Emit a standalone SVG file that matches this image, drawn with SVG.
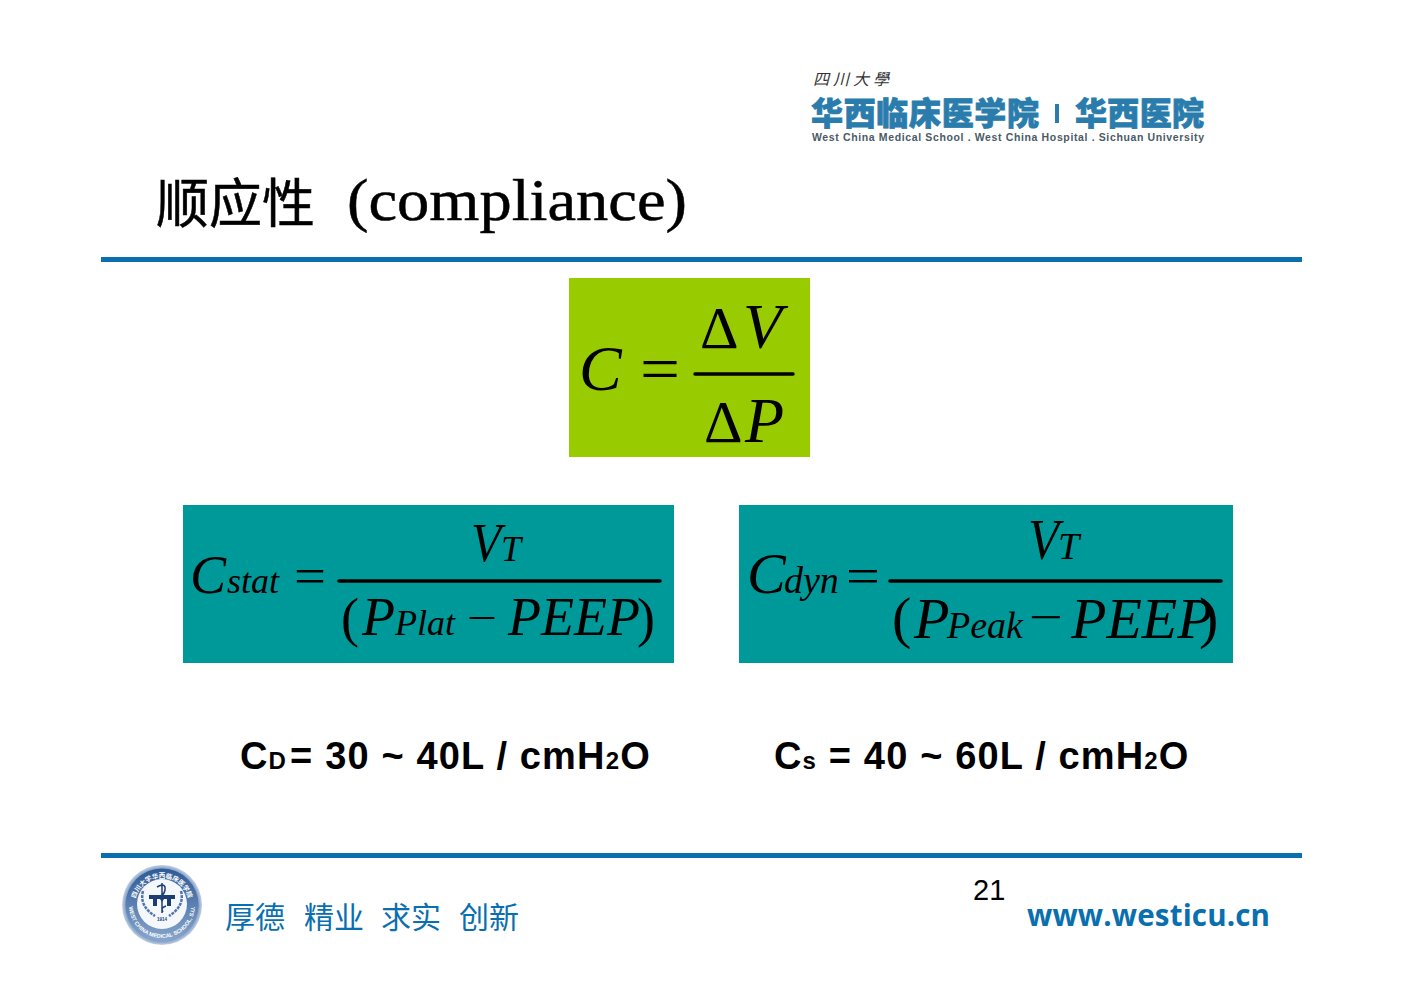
<svg xmlns="http://www.w3.org/2000/svg" width="1403" height="992" viewBox="0 0 1403 992">
<style>
.m{font-family:"Liberation Serif",serif;font-style:italic;fill:#000}
.u{font-family:"Liberation Serif",serif;fill:#000}
.b{font-family:"Liberation Sans",Arial,sans-serif;font-weight:bold;fill:#000;letter-spacing:1.150px}
.cj{font-family:"Noto Sans CJK SC",sans-serif}
.rule{fill:#0a6fae}
.fr{stroke:#000;stroke-linecap:round}
.logo{font-weight:900;fill:#2a7cad;stroke:#2a7cad;stroke-width:.8}
.mo{fill:#0a6fae}
</style>
<defs>
<path id="arcTop" d="M135 905a27 27 0 0 1 54 0"/>
<path id="arcBot" d="M129 905a33 33 0 0 0 66 0"/>
<radialGradient id="halo"><stop offset=".88" stop-color="#6d8dbb"/><stop offset="1" stop-color="#c4d3e6"/></radialGradient>
<linearGradient id="ring" x1="0" y1="0" x2="0" y2="1"><stop offset="0" stop-color="#2f5a96"/><stop offset="1" stop-color="#88a6cb"/></linearGradient>
</defs>
<rect width="1403" height="992" fill="#fff"/>
<g id="logo">
<text class="cj" x="813" y="85" font-size="16" fill="#333" font-style="italic" textLength="76">四川大學</text>
<text class="cj logo" x="811" y="125" font-size="32" textLength="228">华西临床医学院</text>
<rect x="1055" y="104" width="4" height="19" fill="#2a7cad"/>
<text class="cj logo" x="1075" y="125" font-size="32" textLength="129">华西医院</text>
<text x="812" y="141" font-family="Liberation Sans,Arial,sans-serif" font-size="10.500" font-weight="bold" fill="#4a5a66" textLength="392">West China Medical School . West China Hospital . Sichuan University</text>
</g>
<g id="title">
<text class="cj" x="156" y="223" font-size="53" fill="#000" stroke="#000" stroke-width=".5" textLength="159">顺应性</text>
<text class="u" x="347" y="220" font-size="60" stroke="#000" stroke-width=".5" textLength="340" lengthAdjust="spacingAndGlyphs">(compliance)</text>
</g>
<rect id="rule-top" class="rule" x="101" y="257" width="1201" height="5"/>
<g id="formula-c">
<rect x="569" y="278" width="241" height="179" fill="#9c0"/>
<text class="m" x="579" y="390" font-size="64">C</text>
<text class="u" x="640" y="390" font-size="64" textLength="40" lengthAdjust="spacingAndGlyphs">=</text>
<text class="u" x="700" y="348" font-size="60">Δ</text>
<text class="m" x="743" y="348" font-size="64">V</text>
<line class="fr" x1="695" y1="374" x2="793" y2="374" stroke-width="3.500"/>
<text class="u" x="704" y="442" font-size="60">Δ</text>
<text class="m" x="745" y="442" font-size="64">P</text>
</g>
<g id="formula-stat">
<rect x="183" y="505" width="491" height="158" fill="#009999"/>
<text class="m" x="190" y="593" font-size="54">C</text>
<text class="m" x="227" y="593" font-size="36">stat</text>
<text class="u" x="294" y="593" font-size="50" textLength="32" lengthAdjust="spacingAndGlyphs">=</text>
<text class="m" x="471" y="561" font-size="54" textLength="30" lengthAdjust="spacingAndGlyphs">V</text>
<text class="m" x="501" y="561" font-size="36">T</text>
<line class="fr" x1="339" y1="581" x2="660" y2="581" stroke-width="3.500"/>
<text class="u" x="341" y="636" font-size="54">(</text>
<text class="m" x="362" y="635" font-size="54">P</text>
<text class="m" x="395" y="635" font-size="36">Plat</text>
<text class="u" x="467" y="632" font-size="42" textLength="30" lengthAdjust="spacingAndGlyphs">−</text>
<text class="m" x="508" y="635" font-size="54">PEEP</text>
<text class="u" x="637" y="636" font-size="54">)</text>
</g>
<g id="formula-dyn">
<rect x="739" y="505" width="494" height="158" fill="#009999"/>
<text class="m" x="747" y="593" font-size="58">C</text>
<text class="m" x="784" y="593" font-size="38">dyn</text>
<text class="u" x="846" y="593" font-size="50" textLength="34" lengthAdjust="spacingAndGlyphs">=</text>
<text class="m" x="1028" y="559" font-size="58" textLength="31" lengthAdjust="spacingAndGlyphs">V</text>
<text class="m" x="1058" y="559" font-size="38">T</text>
<line class="fr" x1="890" y1="581" x2="1221" y2="581" stroke-width="3.500"/>
<text class="u" x="892" y="637" font-size="58">(</text>
<text class="m" x="914" y="638" font-size="58">P</text>
<text class="m" x="947" y="638" font-size="38">Peak</text>
<text class="u" x="1029" y="632" font-size="44" textLength="34" lengthAdjust="spacingAndGlyphs">−</text>
<text class="m" x="1071" y="638" font-size="58">PEEP</text>
<text class="u" x="1199" y="637" font-size="58">)</text>
</g>
<g id="values">
<text class="b" x="240" y="769" font-size="38">C<tspan font-size="24">D</tspan><tspan dx="3">= 30 ~ 40L / cmH</tspan><tspan font-size="24">2</tspan>O</text>
<text class="b" x="774" y="769" font-size="38">C<tspan font-size="24">s</tspan> = 40 ~ 60L / cmH<tspan font-size="24">2</tspan>O</text>
</g>
<rect id="rule-bottom" class="rule" x="101" y="853" width="1201" height="5"/>
<g id="seal">
<circle cx="162" cy="905" r="40" fill="url(#halo)"/>
<circle cx="162" cy="905" r="36.500" fill="url(#ring)"/>
<circle cx="162" cy="904" r="25" fill="#f4f7fb"/>
<text font-family="Noto Sans CJK SC,sans-serif" font-size="6.500" fill="#fff" font-weight="bold" text-anchor="middle"><textPath href="#arcTop" startOffset="50%">四川大学华西临床医学院</textPath></text>
<text font-family="Liberation Sans,sans-serif" font-size="5.500" fill="#fff" font-weight="bold" text-anchor="middle"><textPath href="#arcBot" startOffset="50%">WEST CHINA MEDICAL SCHOOL, S.U.</textPath></text>
<path d="M149 895h26v4h-4v7h-4v-7h-3l-2 3-2-3h-3v7h-4v-7h-4z" fill="#1c3f73"/>
<path d="M162 883v30M157 887q9-5 8 3-1 5-5 6M166 906q-6 2-3 6" fill="none" stroke="#1c3f73" stroke-width="1.500"/>
<path d="M143 891q-4 15 12 25M181 891q4 15-12 25" fill="none" stroke="#4f76ad" stroke-width="2.500" stroke-dasharray="3 1"/>
<text x="162" y="921" font-family="Liberation Sans,sans-serif" font-size="4.500" font-weight="bold" fill="#1c3f73" text-anchor="middle">1914</text>
</g>
<g id="motto">
<text class="cj mo" x="225" y="928" font-size="30">厚德</text>
<text class="cj mo" x="304" y="928" font-size="30">精业</text>
<text class="cj mo" x="381" y="928" font-size="30">求实</text>
<text class="cj mo" x="459" y="928" font-size="30">创新</text>
</g>
<text id="page" x="973" y="900" font-family="Liberation Sans,Arial,sans-serif" font-size="29" fill="#000">21</text>
<text id="url" x="1027" y="926" font-family="Open Sans,sans-serif" font-weight="bold" font-size="29.500" fill="#0a6fae" textLength="243">www.westicu.cn</text>
</svg>
